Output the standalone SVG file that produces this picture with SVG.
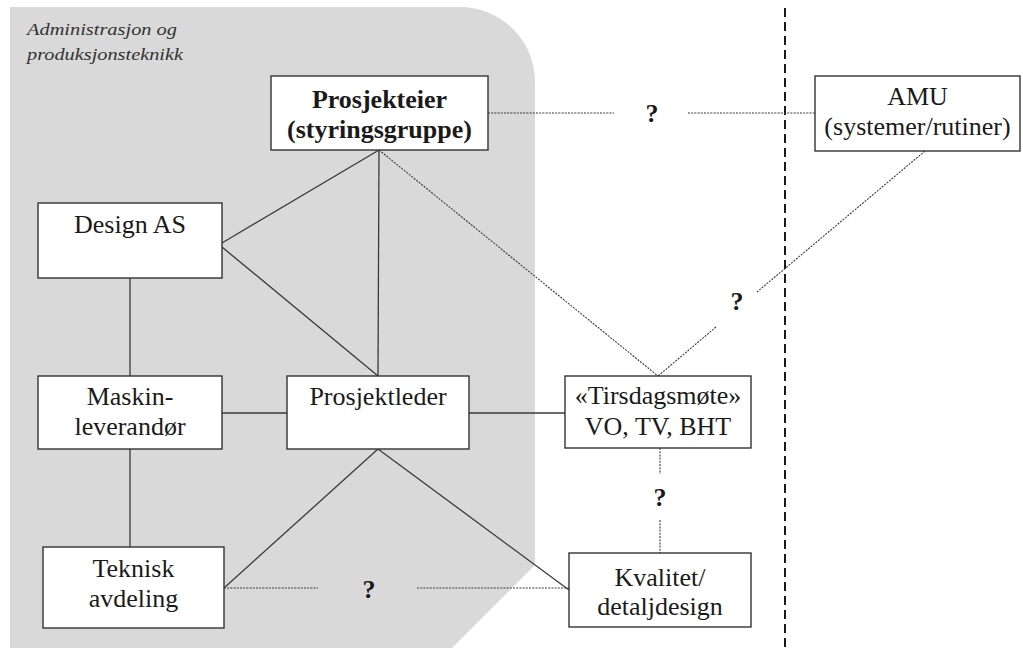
<svg xmlns="http://www.w3.org/2000/svg" width="1023" height="648" viewBox="0 0 1023 648">
  <style>
    .box { fill: #ffffff; stroke: #333333; stroke-width: 1.4; }
    .lbl { font-size: 26px; fill: #1a1a1a; text-anchor: middle; }
    .bold { font-weight: bold; }
    .q { font-size: 26px; font-weight: bold; fill: #1a1a1a; text-anchor: middle; }
    .solid { stroke: #3a3a3a; stroke-width: 1.3; fill: none; }
    .dot { stroke: #3a3a3a; stroke-width: 1.1; stroke-dasharray: 2 1.2; fill: none; }
    .zone { font-style: italic; font-size: 17px; fill: #333333; }
  </style>

  <g font-family="Liberation Serif, Times New Roman, serif">
  <!-- shaded department area -->
  <path id="zone-area" d="M10,7 H460 A75,75 0 0 1 535,82 V565 L452,648 H10 Z" fill="#d9d9d9"/>
  <text class="zone" x="27" y="35" textLength="150" lengthAdjust="spacingAndGlyphs">Administrasjon og</text>
  <text class="zone" x="27" y="60" textLength="156" lengthAdjust="spacingAndGlyphs">produksjonsteknikk</text>

  <!-- boundary line -->
  <line x1="785" y1="8" x2="785" y2="648" stroke="#1a1a1a" stroke-width="2" stroke-dasharray="9 5"/>

  <g id="connectors">
    <line class="solid" x1="379" y1="150" x2="222" y2="243"/>
    <line class="solid" x1="379" y1="150" x2="378" y2="376"/>
    <line class="solid" x1="222" y1="247" x2="378" y2="376"/>
    <line class="solid" x1="130" y1="278" x2="130" y2="376"/>
    <line class="solid" x1="130" y1="449" x2="130" y2="547"/>
    <line class="solid" x1="222" y1="413" x2="287" y2="413"/>
    <line class="solid" x1="469" y1="413" x2="565" y2="413"/>
    <line class="solid" x1="378" y1="449" x2="224" y2="588"/>
    <line class="solid" x1="378" y1="449" x2="569" y2="590"/>

    <line class="dot" x1="379" y1="150" x2="658" y2="376"/>
    <line class="dot" x1="488" y1="113" x2="614" y2="113"/>
    <line class="dot" x1="688" y1="113" x2="815" y2="113"/>
    <line class="dot" x1="925" y1="151" x2="757" y2="292"/>
    <line class="dot" x1="716" y1="327" x2="658" y2="376"/>
    <line class="dot" x1="660" y1="448" x2="660" y2="474"/>
    <line class="dot" x1="660" y1="520" x2="660" y2="553"/>
    <line class="dot" x1="224" y1="588" x2="318" y2="588"/>
    <line class="dot" x1="417" y1="588" x2="569" y2="588"/>

    <text class="q" x="652" y="122">?</text>
    <text class="q" x="737" y="310">?</text>
    <text class="q" x="660" y="506">?</text>
    <text class="q" x="369" y="598">?</text>
  </g>

  <g id="prosjekteier">
    <rect class="box" x="271" y="76" width="217" height="74"/>
    <text class="lbl bold" x="379.5" y="108">Prosjekteier</text>
    <text class="lbl bold" x="379.5" y="138">(styringsgruppe)</text>
  </g>

  <g id="amu">
    <rect class="box" x="815" y="76" width="205" height="75"/>
    <text class="lbl" x="917.5" y="105">AMU</text>
    <text class="lbl" x="917.5" y="135">(systemer/rutiner)</text>
  </g>

  <g id="design-as">
    <rect class="box" x="38" y="203" width="184" height="75"/>
    <text class="lbl" x="130" y="233">Design AS</text>
  </g>

  <g id="maskinleverandor">
    <rect class="box" x="38" y="376" width="184" height="73"/>
    <text class="lbl" x="130" y="405">Maskin-</text>
    <text class="lbl" x="130" y="435">leverandør</text>
  </g>

  <g id="prosjektleder">
    <rect class="box" x="287" y="376" width="182" height="73"/>
    <text class="lbl" x="378" y="405">Prosjektleder</text>
  </g>

  <g id="tirsdagsmote">
    <rect class="box" x="565" y="376" width="186" height="72"/>
    <text class="lbl" x="658" y="404">«Tirsdagsmøte»</text>
    <text class="lbl" x="658" y="435">VO, TV, BHT</text>
  </g>

  <g id="teknisk-avdeling">
    <rect class="box" x="43" y="547" width="181" height="81"/>
    <text class="lbl" x="133.5" y="577">Teknisk</text>
    <text class="lbl" x="133.5" y="607">avdeling</text>
  </g>

  <g id="kvalitet">
    <rect class="box" x="569" y="553" width="182" height="74"/>
    <text class="lbl" x="660" y="586">Kvalitet/</text>
    <text class="lbl" x="660" y="615">detaljdesign</text>
  </g>
  </g>
</svg>
